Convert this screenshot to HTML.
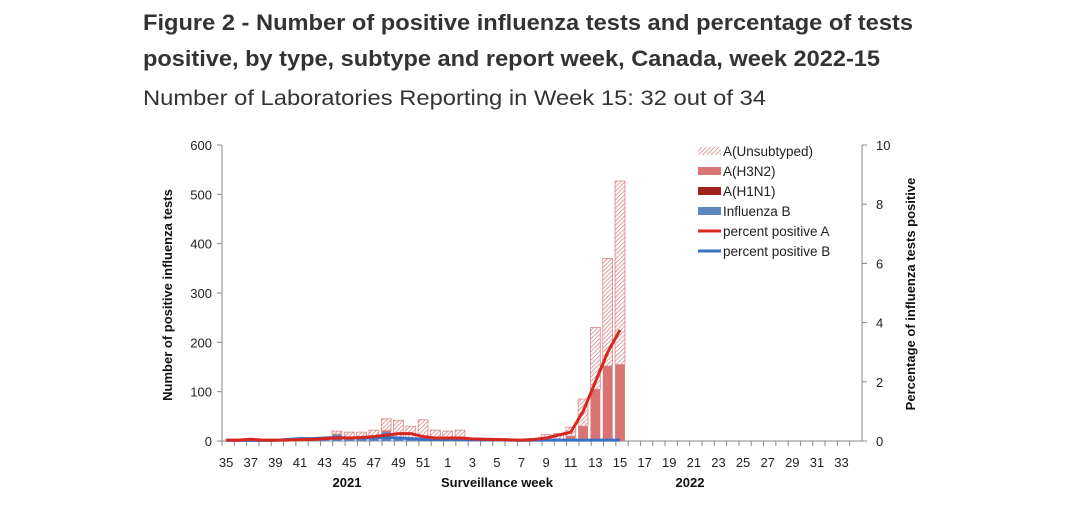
<!DOCTYPE html>
<html><head><meta charset="utf-8"><style>
body{margin:0;background:#fff;width:1066px;height:508px;overflow:hidden}
svg{display:block;font-family:"Liberation Sans",Arial,sans-serif}
</style></head><body>
<svg id="chart" width="1066" height="508">
<defs><pattern id="hatch" width="3" height="3" patternUnits="userSpaceOnUse" patternTransform="rotate(45)"><rect width="3" height="3" fill="#fff"/><line x1="0" y1="0" x2="0" y2="3" stroke="#d88888" stroke-width="1.6"/></pattern></defs>
<text x="143" y="30" font-size="22" font-weight="bold" fill="#333" textLength="770" lengthAdjust="spacingAndGlyphs">Figure 2 - Number of positive influenza tests and percentage of tests</text>
<text x="143" y="66" font-size="22" font-weight="bold" fill="#333" textLength="737" lengthAdjust="spacingAndGlyphs">positive, by type, subtype and report week, Canada, week 2022-15</text>
<text x="143" y="105" font-size="21" fill="#333" textLength="623" lengthAdjust="spacingAndGlyphs">Number of Laboratories Reporting in Week 15: 32 out of 34</text>
<g id="plot"></g>
</svg>
<script>
const weeks=[35,36,37,38,39,40,41,42,43,44,45,46,47,48,49,50,51,52,1,2,3,4,5,6,7,8,9,10,11,12,13,14,15,16,17,18,19,20,21,22,23,24,25,26,27,28,29,30,31,32,33,34];
const unsub=[0,0,0,0,0,1,2,1,2,6,12,13,12,24,34,25,38,20,18,20,5,4,4,3,1,4,10,12,18,55,125,218,372];
const h3n2=[0,0,0,0,0,0,0,0,0,2,0,0,2,3,0,0,0,0,0,0,0,0,0,0,0,0,1,2,8,30,105,152,155];
const h1n1=[0,0,0,0,0,0,0,0,0,0,0,0,0,0,0,0,0,0,0,0,0,0,0,0,0,0,0,0,0,0,0,0,0];
const fluB=[0,0,0,0,1,2,3,2,3,12,6,5,8,18,8,5,5,2,2,2,1,1,1,1,0,1,2,1,2,0,0,0,0];
const pctA=[0.03,0.03,0.06,0.03,0.03,0.03,0.05,0.05,0.08,0.1,0.1,0.12,0.15,0.2,0.25,0.25,0.15,0.1,0.1,0.1,0.07,0.06,0.05,0.04,0.03,0.05,0.1,0.2,0.3,1.0,2.0,3.0,3.75];
const pctB=[0.02,0.02,0.02,0.02,0.02,0.05,0.08,0.08,0.1,0.12,0.1,0.1,0.1,0.12,0.1,0.08,0.06,0.05,0.05,0.05,0.04,0.04,0.04,0.03,0.02,0.03,0.03,0.03,0.03,0.03,0.03,0.03,0.03];
const yTicks=[0,100,200,300,400,500,600];
const y2Ticks=[0,2,4,6,8,10];
const NS="http://www.w3.org/2000/svg";
const g=document.getElementById('plot');
const L=222,R=862,B=441,T=145;
const step=(R-L)/weeks.length;
const xC=i=>L+step*(i+0.5)-2;
const y=v=>B-(v/600)*(B-T);
const y2=v=>B-(v/10)*(B-T);
function el(tag,a,txt){const e=document.createElementNS(NS,tag);for(const k in a)e.setAttribute(k,a[k]);if(txt!==undefined)e.textContent=txt;g.appendChild(e);return e;}
let ax=el('line',{x1:L,y1:T,x2:L,y2:B,stroke:'#888'});

ax=el('line',{x1:R,y1:T,x2:R,y2:B,stroke:'#888'});

ax=el('line',{x1:L,y1:B,x2:R,y2:B,stroke:'#888'});

yTicks.forEach(v=>{el('line',{x1:L-5,y1:y(v),x2:L,y2:y(v),stroke:'#888'});
const t=el('text',{x:L-10,y:y(v)+5,'font-size':13,'text-anchor':'end',fill:'#222'},v);
});
y2Ticks.forEach(v=>{el('line',{x1:R,y1:y2(v),x2:R+5,y2:y2(v),stroke:'#888'});
const t=el('text',{x:R+14,y:y2(v)+5,'font-size':13,fill:'#222'},v);
});
weeks.forEach((w,i)=>{const xe=L+step*i;el('line',{x1:xe,y1:B,x2:xe,y2:B+5,stroke:'#888'});
if(i%2===0){const t=el('text',{x:xC(i),y:467,'font-size':13,'text-anchor':'middle',fill:'#222'},w);
}});
const bw=step*0.8;
unsub.forEach((u,i)=>{let base=0;
[[fluB[i],'#5b86c2','bar-influenza-b'],[h1n1[i],'#a0231d','bar-h1n1'],[h3n2[i],'#d87474','bar-h3n2'],[u,'url(#hatch)','bar-unsubtyped']].forEach(([v,f,n])=>{
if(v<=0)return;const r=el('rect',{x:xC(i)-bw/2,y:y(base+v),width:bw,height:y(base)-y(base+v),fill:f,stroke:n==='bar-unsubtyped'?'#d88888':'none','stroke-width':0.8});
base+=v;});});
function line(arr,c,n){const p=el('polyline',{points:arr.map((v,i)=>xC(i)+','+y2(v)).join(' '),fill:'none',stroke:c,'stroke-width':3,'stroke-linejoin':'round'});
}
line(pctB,'#3a6fc4','line-percent-positive-b');
line(pctA,'#d7261e','line-percent-positive-a');
let t=el('text',{x:0,y:0,'font-size':13,'font-weight':'bold','text-anchor':'middle',fill:'#111',transform:'translate(172,295) rotate(-90)'},'Number of positive influenza tests');

t=el('text',{x:0,y:0,'font-size':13,'font-weight':'bold','text-anchor':'middle',fill:'#111',transform:'translate(915,294) rotate(-90)'},'Percentage of influenza tests positive');

t=el('text',{x:347,y:487,'font-size':13,'font-weight':'bold','text-anchor':'middle',fill:'#111'},'2021');

t=el('text',{x:497,y:487,'font-size':13,'font-weight':'bold','text-anchor':'middle',fill:'#111'},'Surveillance  week');

t=el('text',{x:690,y:487,'font-size':13,'font-weight':'bold','text-anchor':'middle',fill:'#111'},'2022');

const leg=[['A(Unsubtyped)','url(#hatch)','r'],['A(H3N2)','#d87474','r'],['A(H1N1)','#a0231d','r'],['Influenza B','#5b86c2','r'],['percent positive A','#d7261e','l'],['percent positive B','#3a6fc4','l']];
leg.forEach((e,i)=>{const yy=151+i*20;
if(e[2]==='r')el('rect',{x:698,y:yy-4,width:23,height:8,fill:e[1]});else el('line',{x1:698,y1:yy,x2:721,y2:yy,stroke:e[1],'stroke-width':3});
const lt=el('text',{x:723,y:yy+5,'font-size':13.5,fill:'#222'},e[0]);
});
</script>
</body></html>
